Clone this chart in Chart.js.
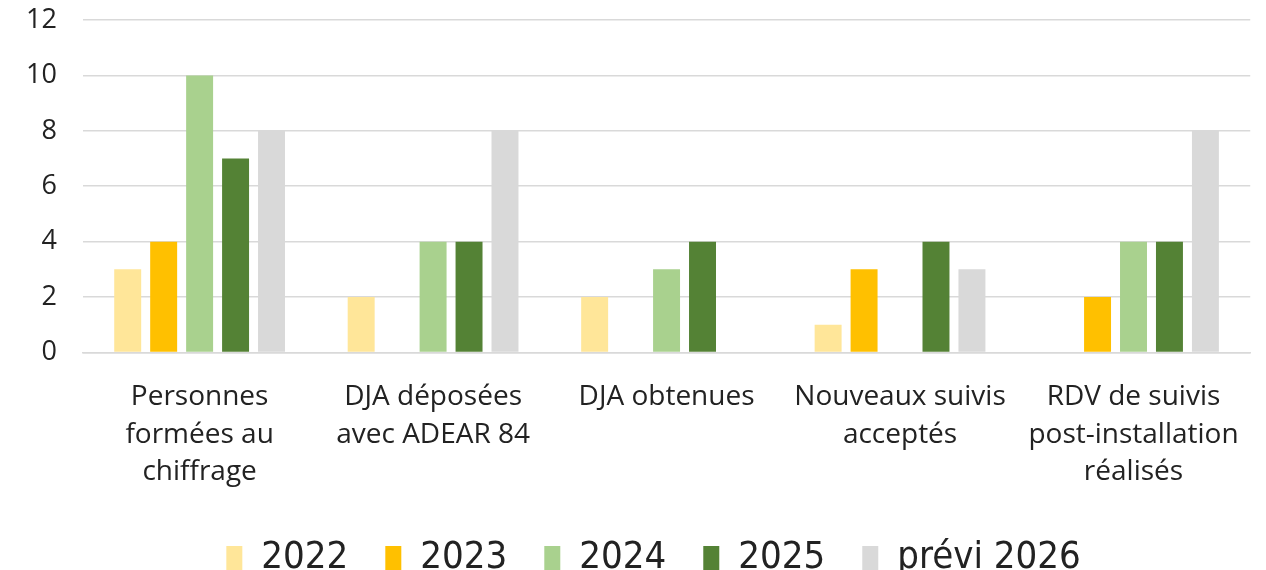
<!DOCTYPE html>
<html>
<head>
<meta charset="utf-8">
<script src="https://cdn.jsdelivr.net/npm/chart.js@4/dist/chart.umd.min.js"></script>
<style>
  html, body { margin: 0; padding: 0; background: #fff; }
  #wrap { width: 1266px; height: 570px; }
</style>
</head>
<body>
<div id="wrap"><canvas id="chart"></canvas></div>
<script>
const categories = [
  ["Personnes", "formées au", "chiffrage"],
  ["DJA déposées", "avec ADEAR 84"],
  ["DJA obtenues"],
  ["Nouveaux suivis", "acceptés"],
  ["RDV de suivis", "post-installation", "réalisés"]
];
const seriesNames = ["2022", "2023", "2024", "2025", "prévi 2026"];
const v2022 = [3, 2, 2, 1, 0];
const v2023 = [4, 0, 0, 3, 2];
const v2024 = [10, 4, 3, 0, 4];
const v2025 = [7, 4, 4, 4, 4];
const v2026 = [8, 8, 0, 3, 8];
const colors = ["#FFE699", "#FFC000", "#A9D18E", "#548235", "#D9D9D9"];

const allValues = [v2022, v2023, v2024, v2025, v2026];

// nudge the legend a little left, like the original
const legendShift = {
  id: "legendShift",
  afterLayout(chart) {
    chart.legend.left -= 13;
    chart.legend.right -= 13;
  }
};

const chart = new Chart(document.getElementById("chart"), {
  type: "bar",
  data: {
    labels: categories,
    datasets: allValues.map((vals, i) => ({
      label: seriesNames[i],
      data: vals,
      backgroundColor: colors[i],
      categoryPercentage: 0.77,
      barPercentage: 0.75
    }))
  },
  plugins: [legendShift],
  options: {
    responsive: true,
    maintainAspectRatio: false,
    animation: false,
    layout: { padding: { top: 20, right: 14, left: 0, bottom: -17 } },
    plugins: {
      tooltip: { enabled: false },
      legend: {
        position: "bottom",
        fullSize: false,
        labels: {
          font: { family: "'DejaVu Sans Condensed', sans-serif", size: 38 },
          color: "#222",
          boxWidth: 16,
          boxHeight: 24,
          padding: 37
        }
      }
    },
    scales: {
      y: {
        min: 0,
        max: 12,
        afterFit(scale) {
          scale.paddingTop = 0;
          scale.paddingBottom = 0;
        },
        ticks: {
          stepSize: 2,
          padding: 26,
          color: "#222",
          font: { family: "'Open Sans', sans-serif", size: 27 }
        },
        grid: { color: "#D9D9D9", lineWidth: 1.5, drawTicks: false },
        border: { display: false }
      },
      x: {
        afterFit(scale) {
          scale.height -= 15;
        },
        ticks: {
          color: "#222",
          maxRotation: 0,
          autoSkip: false,
          padding: 26,
          font: { family: "'Open Sans', sans-serif", size: 28, lineHeight: 1.34 }
        },
        grid: { display: false, drawTicks: false },
        border: { color: "#D9D9D9", width: 1.5 }
      }
    }
  }
});
</script>
</body>
</html>
